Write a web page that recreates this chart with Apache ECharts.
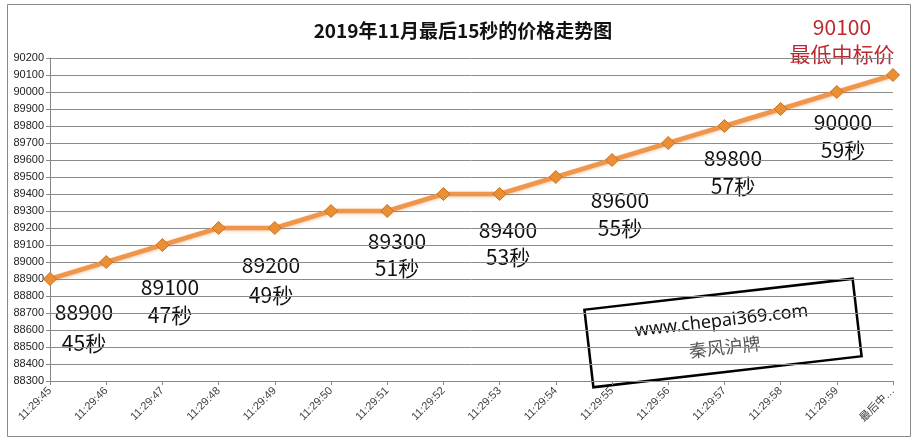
<!DOCTYPE html>
<html>
<head>
<meta charset="utf-8">
<script src="https://cdn.jsdelivr.net/npm/echarts@6/dist/echarts.min.js"></script>
<style>html,body{margin:0;padding:0;background:#fff;}#c{width:917px;height:442px;}</style>
</head>
<body>
<div id="c"></div>
<script>
var title = '2019年11月最后15秒的价格走势图';
var categories = ['11:29:45','11:29:46','11:29:47','11:29:48','11:29:49','11:29:50','11:29:51','11:29:52','11:29:53','11:29:54','11:29:55','11:29:56','11:29:57','11:29:58','11:29:59','最后中…'];
var prices = [88900,89000,89100,89200,89200,89300,89300,89400,89400,89500,89600,89700,89800,89900,90000,90100];
var yMin = 88300, yMax = 90200, yStep = 100;
var notePrices = ['88900','89100','89200','89300','89400','89600','89800','90000'];
var noteSeconds = ['45秒','47秒','49秒','51秒','53秒','55秒','57秒','59秒'];
var finalPrice = '90100';
var finalLabel = '最低中标价';
var watermark1 = 'www.chepai369.com';
var watermark2 = '秦风沪牌';

// annotation box placement (layout only)
var notePos = [[84,312,343],[170,287,315],[271,265,295],[397,241,268],[508,230,257],[620,200,228],[733,158,186],[843,122,150]];

var FONT = '"Noto Sans CJK SC","Noto Sans",sans-serif';
var graphics = [
  {type:'rect', shape:{x:7.5,y:4.5,width:903,height:432}, style:{fill:'none',stroke:'#8a8a8a',lineWidth:1}, z:-1}
];
notePrices.forEach(function(p,i){
  var pos = notePos[i];
  graphics.push({type:'text', x:pos[0], y:pos[1], style:{text:p, fill:'#111', font:'21px '+FONT, textAlign:'center', textVerticalAlign:'middle'}});
  graphics.push({type:'text', x:pos[0], y:pos[2], style:{text:noteSeconds[i], fill:'#111', font:'21px '+FONT, textAlign:'center', textVerticalAlign:'middle'}});
});
graphics.push({type:'text', x:842, y:27, style:{text:finalPrice, fill:'#c0272d', font:'21px '+FONT, textAlign:'center', textVerticalAlign:'middle'}});
graphics.push({type:'text', x:842, y:54, style:{text:finalLabel, fill:'#c0272d', font:'21px '+FONT, textAlign:'center', textVerticalAlign:'middle'}});
graphics.push({
  type:'group', x:723, y:333, rotation: 6.6*Math.PI/180,
  children:[
    {type:'rect', shape:{x:-135,y:-39,width:270,height:78}, style:{fill:'none',stroke:'#000',lineWidth:2.5}},
    {type:'text', x:0, y:-12, style:{text:watermark1, fill:'#111', font:'18px "Noto Sans",sans-serif', textAlign:'center', textVerticalAlign:'middle'}},
    {type:'text', x:0, y:14, style:{text:watermark2, fill:'#555', font:'18px "Noto Sans CJK SC",sans-serif', textAlign:'center', textVerticalAlign:'middle'}}
  ]
});

var chart = echarts.init(document.getElementById('c'));
chart.setOption({
  backgroundColor:'#fff',
  animation:false,
  title:{text:title, left:458, top:16, textAlign:'center',
    textStyle:{fontFamily:FONT, fontWeight:'bold', fontSize:19, color:'#111'}},
  grid:{left:50, right:24, top:58, bottom:61},
  xAxis:{
    type:'category', data:categories, boundaryGap:false,
    axisLine:{lineStyle:{color:'#868686'}},
    axisTick:{show:true, length:4, alignWithLabel:true, lineStyle:{color:'#868686'}},
    axisLabel:{rotate:45, fontSize:11, color:'#404040', margin:8, fontFamily:'"Liberation Sans","Noto Sans CJK SC",sans-serif', interval:0},
    splitLine:{show:false}
  },
  yAxis:{
    type:'value', min:yMin, max:yMax, interval:yStep,
    axisLine:{show:true, lineStyle:{color:'#868686'}},
    axisTick:{show:true, length:4, lineStyle:{color:'#868686'}},
    axisLabel:{fontSize:11, color:'#222', margin:6, fontFamily:'"Liberation Sans",sans-serif', formatter:function(v){return String(v);}},
    splitLine:{lineStyle:{color:'#8c8c8c', width:1}}
  },
  series:[{
    type:'line', data:prices,
    symbol:'diamond', symbolSize:13,
    lineStyle:{color:'#f0964a', width:4.5, shadowColor:'rgba(200,110,30,0.35)', shadowBlur:3, shadowOffsetY:1},
    itemStyle:{color:'#ea8f34', borderColor:'#c8701e', borderWidth:1},
    label:{show:false}
  }],
  graphic:graphics
});
</script>
</body>
</html>
